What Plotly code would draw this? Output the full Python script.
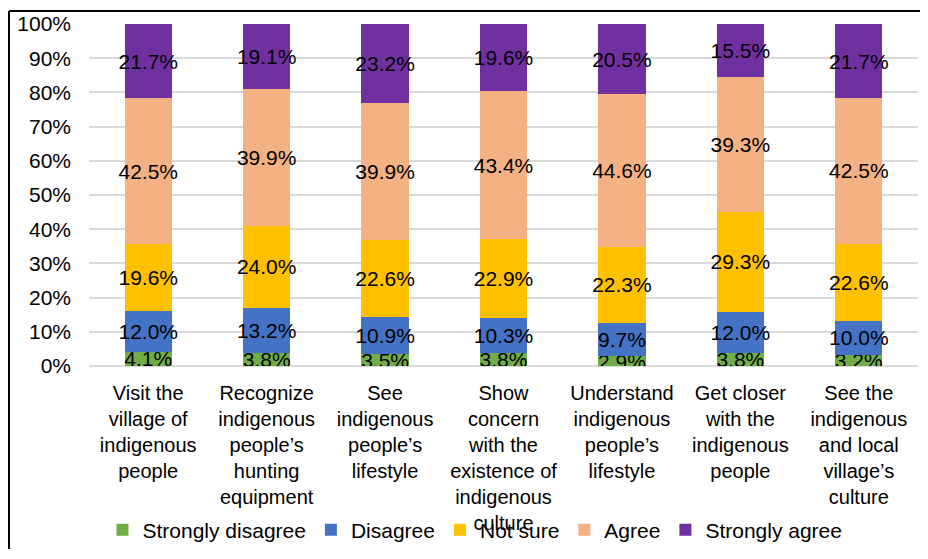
import plotly.graph_objects as go

categories = [
    "Visit the village of indigenous people",
    "Recognize indigenous people’s hunting equipment",
    "See indigenous people’s lifestyle",
    "Show concern with the existence of indigenous culture",
    "Understand indigenous people’s lifestyle",
    "Get closer with the indigenous people",
    "See the indigenous and local village’s culture",
]
tick_labels = [
    "Visit the<br>village of<br>indigenous<br>people",
    "Recognize<br>indigenous<br>people’s<br>hunting<br>equipment",
    "See<br>indigenous<br>people’s<br>lifestyle",
    "Show<br>concern<br>with the<br>existence of<br>indigenous<br>culture",
    "Understand<br>indigenous<br>people’s<br>lifestyle",
    "Get closer<br>with the<br>indigenous<br>people",
    "See the<br>indigenous<br>and local<br>village’s<br>culture",
]
series_names = ["Strongly disagree", "Disagree", "Not sure", "Agree", "Strongly agree"]
strongly_disagree = [4.1, 3.8, 3.5, 3.8, 2.9, 3.8, 3.2]
disagree = [12.0, 13.2, 10.9, 10.3, 9.7, 12.0, 10.0]
not_sure = [19.6, 24.0, 22.6, 22.9, 22.3, 29.3, 22.6]
agree = [42.5, 39.9, 39.9, 43.4, 44.6, 39.3, 42.5]
strongly_agree = [21.7, 19.1, 23.2, 19.6, 20.5, 15.5, 21.7]
y_ticks = [0, 10, 20, 30, 40, 50, 60, 70, 80, 90, 100]
y_tick_labels = [f"{t}%" for t in y_ticks]

colors = ["#70AD47", "#4472C4", "#FFC000", "#F4B183", "#7030A0"]
FONT = "Liberation Sans, Arial, sans-serif"

# figure sized to fit inside the page's default 8px body margin
W, H = 912, 541
L, T, PW, PH = 81, 16, 829, 342

fig = go.Figure()
for name, vals, col in zip(series_names,
                           [strongly_disagree, disagree, not_sure, agree, strongly_agree],
                           colors):
    fig.add_trace(go.Bar(
        x=categories, y=vals, name=name,
        marker=dict(color=col, line=dict(width=0)),
        text=[f"{v:.1f}%" for v in vals],
        textposition="inside", insidetextanchor="middle",
        textangle=0, constraintext="none",
        textfont=dict(family=FONT, size=21, color="black"),
        hoverinfo="skip",
    ))

fig.update_layout(
    barmode="stack", barnorm="percent", bargap=0.6,
    width=W, height=H,
    margin=dict(l=L, r=W - L - PW, t=T, b=H - T - PH, autoexpand=False),
    paper_bgcolor="white", plot_bgcolor="white",
    font=dict(family=FONT, size=21, color="black"),
    uniformtext=dict(minsize=21, mode="show"),
    legend=dict(orientation="h", x=0.4656, xanchor="center",
                yref="container", y=(H - 522) / H, yanchor="middle",
                font=dict(family=FONT, size=21, color="black"),
                traceorder="normal", bgcolor="rgba(0,0,0,0)"),
    showlegend=True,
)
fig.update_xaxes(tickmode="array", tickvals=categories, ticktext=tick_labels,
                 automargin=False,
                 showgrid=False, showline=False, ticks="", ticklabelstandoff=13,
                 tickfont=dict(family=FONT, size=20, color="black"))
fig.update_yaxes(range=[0, 100], tickmode="array", tickvals=y_ticks, ticktext=y_tick_labels,
                 automargin=False,
                 showgrid=True, gridcolor="#D9D9D9", gridwidth=1.5,
                 zeroline=True, zerolinecolor="#D9D9D9", zerolinewidth=1.5,
                 showline=False, ticks="", ticklabelstandoff=17,
                 tickfont=dict(family=FONT, size=21, color="black"))

# outer chart border: only the top and left edges are visible in the picture
bx = (1 - L) / PW
by_top = (T + PH - 3) / PH
fig.add_shape(type="line", xref="paper", yref="paper",
              x0=bx, x1=(W - L) / PW, y0=by_top, y1=by_top,
              line=dict(color="black", width=2), layer="below")
fig.add_shape(type="line", xref="paper", yref="paper",
              x0=bx, x1=bx, y0=(T + PH - H) / PH, y1=by_top,
              line=dict(color="black", width=2), layer="below")

fig.write_html("out.html")
